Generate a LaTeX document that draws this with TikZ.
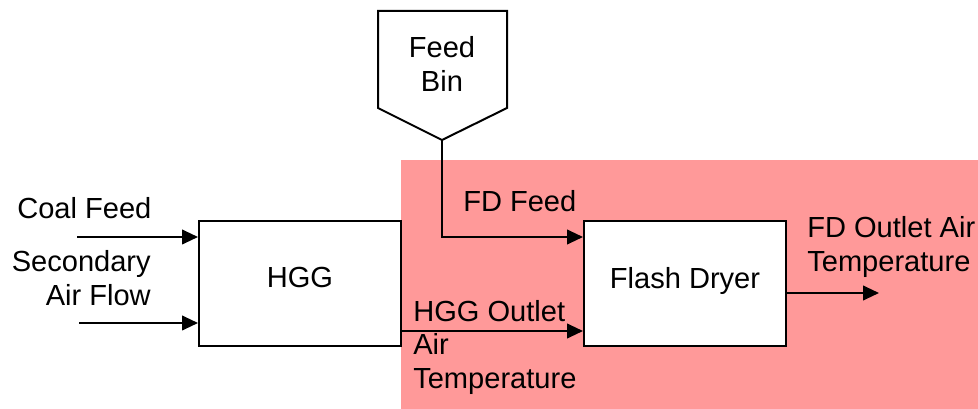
\documentclass[tikz,border=0pt]{standalone}
\usepackage{fontspec}
\setmainfont{Liberation Sans}
\usetikzlibrary{arrows.meta}
\definecolor{pinkbg}{HTML}{FF9999}
\begin{document}
\begin{tikzpicture}[x=0.75pt,y=-0.75pt,
  lbl/.style={inner sep=0pt,font=\fontsize{21.8}{25.5}\selectfont},
  blk/.style={draw,line width=1.5pt,fill=white,minimum width=151.5pt,minimum height=93.75pt,inner sep=0pt,font=\fontsize{21.8}{25.5}\selectfont},
  arr/.style={line width=1.5pt,-{Triangle[length=12pt,width=11pt]}}]
\useasboundingbox (0,0) rectangle (978,409);
\fill[pinkbg] (401,160) rectangle (978,409);
% Feed bin
\draw[line width=1.5pt,fill=white] (378,11) -- (507,11) -- (507,108) -- (442,140) -- (378,108) -- cycle;
\coordinate (binpt) at (442,140);
\node[lbl,anchor=base,align=center] (bin) at (442,92) {Feed\\Bin};
% blocks
\node[blk] (hgg) at (300,283.5) {\raisebox{9pt}{HGG}};
\node[blk] (fd) at (685,283.5) {\raisebox{9pt}{Flash Dryer}};
% connectors
\coordinate (cf) at (77,237);
\coordinate (sa) at (79,323);
\coordinate (ho) at (401,331);
\coordinate (ff) at (442,237);
\coordinate (fo) at (879,293);
\draw[arr] (cf) -- (cf -| hgg.west);
\draw[arr] (sa) -- (sa -| hgg.west);
\draw[arr] (binpt) -- (ff) -- (ff -| fd.west);
\draw[arr] (ho -| hgg.east) -- (ho -| fd.west);
\draw[arr] (fo -| fd.east) -- (fo);
% labels
\node[lbl,anchor=base west] (lcf) at (17,219) {Coal Feed};
\node[lbl,anchor=base east,align=right] (lsa) at (151,306) {Secondary\\Air Flow};
\node[lbl,anchor=base west] (lff) at (463,212) {FD Feed};
\node[lbl,anchor=base west,align=left] (lho) at (413,389) {HGG Outlet\\Air\\Temperature};
\node[lbl,anchor=base west,align=left] (lfo) at (807,272) {FD Outlet Air\\Temperature};
\end{tikzpicture}
\end{document}
